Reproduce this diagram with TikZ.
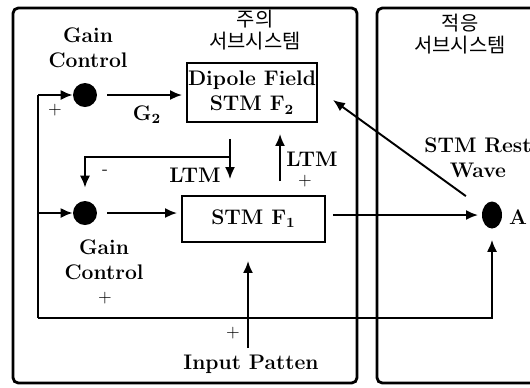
\documentclass[tikz,border=0pt]{standalone}
\usepackage{fontspec}
\newfontfamily\krfont{Noto Sans CJK KR}
\usetikzlibrary{arrows.meta,calc,positioning,shapes.geometric}

\begin{document}
\begin{tikzpicture}[
  x=0.02cm, y=-0.02cm,
  >={Latex[length=6.8pt,width=5.7pt]},
  panel/.style={line width=1.6pt, rounded corners=3pt},
  conn/.style={->, line width=1.1pt},
  box/.style={draw, line width=1.1pt, inner sep=0pt, align=center,
    font=\fontsize{12}{14.5}\selectfont\bfseries},
  dot/.style={circle, fill=black, minimum size=0.48cm, inner sep=0pt},
  txt/.style={font=\fontsize{12}{14}\selectfont\bfseries, align=center, inner sep=0pt},
  sign/.style={font=\fontsize{10}{10}\selectfont, inner sep=0pt},
  kr/.style={font=\krfont\fontsize{11.3}{12.2}\selectfont, align=center, inner sep=0pt}
]
  \useasboundingbox (0,0) rectangle (530,387);

  % two subsystem panels
  \draw[panel] (13,8) rectangle (357,383);
  \draw[panel] (377,8) rectangle (548,383);
  \node[kr] (attn) at (255,30) {주의\\서브시스템};
  \node[kr] (orient) at (460,34) {적응\\서브시스템};

  % fields and gain nodes
  \node[box, minimum width=2.6cm, minimum height=1.18cm] (f2) at (252,92.5)
    {Dipole Field\\STM F\textsubscript{2}};
  \node[box, minimum width=2.86cm, minimum height=0.92cm] (f1) at (253.5,219)
    {STM F\textsubscript{1}};
  \node[dot] (gtop) at (85,95) {};
  \node[dot] (glow) at (85,213) {};
  \node[ellipse, fill=black, minimum width=0.4cm, minimum height=0.54cm,
    inner sep=0pt] (adot) at (492,215) {};

  % labels
  \node[txt] (gc2) at (88,48) {Gain\\Control};
  \node[txt] (gc1) at (104,260) {Gain\\Control};
  \node[txt] (g2) at (147,115) {G\textsubscript{2}};
  \node[txt] (ltmd) at (195,175) {LTM};
  \node[txt] (ltmu) at (312,159) {LTM};
  \node[txt] (rst) at (478,158) {STM Rest\\Wave};
  \node[txt] (alab) at (518,217) {A};
  \node[txt] (inlab) at (251,364) {Input Patten};
  \node[sign] (p1) at (55,110) {+};
  \node[sign] (m1) at (105,172) {-};
  \node[sign] (p2) at (305,181) {+};
  \node[sign] (p3) at (105,298) {+};
  \node[sign] (p4) at (233,333) {+};

  % connectors
  \coordinate (lb) at (38,318);
  \coordinate (lt) at (38,95);
  \coordinate (lm) at (38,213);
  \coordinate (d1) at (230,0);
  \coordinate (br) at (230,157);
  \coordinate (u1) at (280,0);
  \coordinate (inp) at (248,348);
  \coordinate (rtip) at (333,100);

  \draw[line width=1.1pt] (lb) -- (lt);
  \draw[conn] (lt) -- (gtop);
  \draw[conn] (lm) -- (glow);
  \draw[conn, shorten <=0.2cm, shorten >=0.08cm] (gtop) -- (gtop -| f2.west);
  \draw[conn, shorten <=0.2cm, shorten >=0.08cm] (glow) -- (glow -| f1.west);
  \draw[conn, shorten <=0.32cm, shorten >=0.32cm] (f2.south -| d1) -- (f1.north -| d1);
  \draw[conn, shorten >=0.26cm] (br) -| (glow);
  \draw[conn, shorten <=0.28cm, shorten >=0.22cm] (f1.north -| u1) -- (f2.south -| u1);
  \draw[conn, shorten <=0.14cm, shorten >=0.28cm] (f1.east |- adot) -- (adot.center);
  \draw[conn, shorten >=0.36cm] (inp) -- (inp |- f1.south);
  \draw[conn, shorten >=0.22cm] (lb) -| (adot);
  \draw[conn, shorten <=0.42cm] (adot) -- (rtip);
\end{tikzpicture}
\end{document}
